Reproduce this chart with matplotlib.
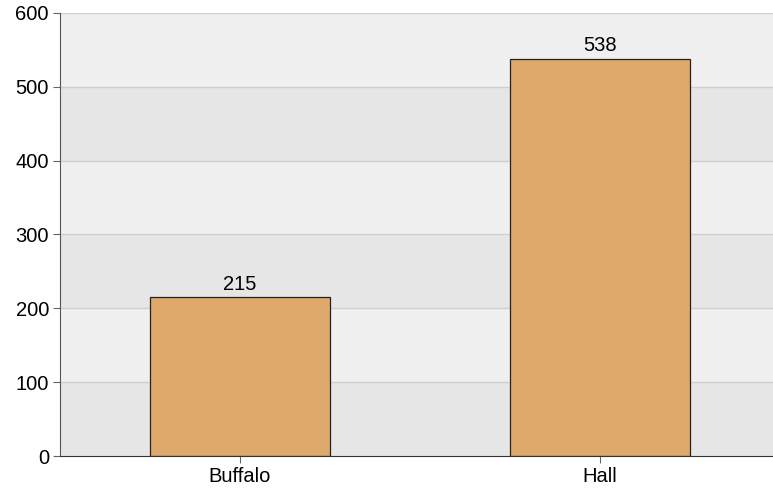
import matplotlib.pyplot as plt
import numpy as np

categories = ['Buffalo', 'Hall']
values = [215, 538]
yticks = [0, 100, 200, 300, 400, 500, 600]

plt.rcParams['font.family'] = ['Liberation Sans', 'DejaVu Sans']

fig = plt.figure(figsize=(7.73, 4.98), dpi=100)
ax = fig.add_axes([60 / 773, 42 / 498, 713 / 773, 443 / 498])

# alternating background bands
for i in range(len(yticks) - 1):
    col = '#e6e6e6' if i % 2 == 0 else '#f0f0f0'
    ax.axhspan(yticks[i], yticks[i + 1], color=col, zorder=0, lw=0)
for t in yticks[1:]:
    ax.axhline(t, color='#cfcfcf', lw=1, zorder=1)

x = np.arange(len(categories))
bars = ax.bar(x, values, width=0.5, color='#dfa96b', edgecolor='#222222', lw=0.9, zorder=2)
for b, v in zip(bars, values):
    ax.text(b.get_x() + b.get_width() / 2, v + 5, str(v), ha='center', va='bottom', fontsize=14.5)

ax.set_xlim(-0.5, 1.48)
ax.set_ylim(0, 600)
ax.set_xticks(x)
ax.set_xticklabels(categories, fontsize=14.5)
ax.set_yticks(yticks)
ax.set_yticklabels([str(t) for t in yticks], fontsize=14.5)
ax.tick_params(axis='both', length=5, color='#666666', direction='out', pad=3)
for s in ['top', 'right']:
    ax.spines[s].set_visible(False)
ax.spines['left'].set_color('#555555')
ax.spines['bottom'].set_color('#333333')

fig.savefig('out.png', dpi=100)
